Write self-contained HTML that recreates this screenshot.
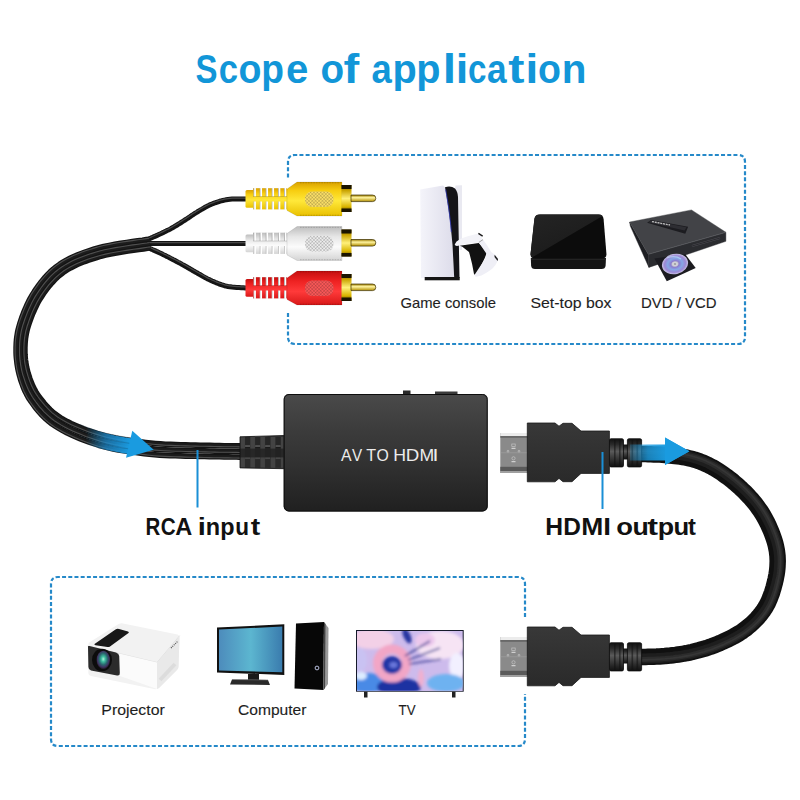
<!DOCTYPE html>
<html><head><meta charset="utf-8"><title>Scope of application</title>
<style>
html,body{margin:0;padding:0;background:#fff;width:800px;height:800px;overflow:hidden}
svg{display:block}
text{font-family:"Liberation Sans",sans-serif}
</style></head><body>
<svg width="800" height="800" viewBox="0 0 800 800">
<defs><clipPath id="tvclip"><rect x="357" y="631" width="105.7" height="59.8"/></clipPath>
<linearGradient id="yel" x1="0" y1="0" x2="0" y2="1"><stop offset="0" stop-color="#d9a100"/><stop offset="0.25" stop-color="#f7cd10"/><stop offset="0.55" stop-color="#ffe83a"/><stop offset="1" stop-color="#e9c000"/></linearGradient>
<linearGradient id="wht" x1="0" y1="0" x2="0" y2="1"><stop offset="0" stop-color="#bdbdbd"/><stop offset="0.3" stop-color="#e6e6e6"/><stop offset="0.6" stop-color="#fbfbfb"/><stop offset="1" stop-color="#d4d4d4"/></linearGradient>
<linearGradient id="red" x1="0" y1="0" x2="0" y2="1"><stop offset="0" stop-color="#c40f0f"/><stop offset="0.3" stop-color="#ee2222"/><stop offset="0.6" stop-color="#ff3a3a"/><stop offset="1" stop-color="#d81818"/></linearGradient>
<linearGradient id="gold" x1="0" y1="0" x2="0" y2="1"><stop offset="0" stop-color="#6b5200"/><stop offset="0.2" stop-color="#c9a300"/><stop offset="0.5" stop-color="#fff07a"/><stop offset="0.8" stop-color="#d8b400"/><stop offset="1" stop-color="#5a4400"/></linearGradient>
<linearGradient id="pin" x1="0" y1="0" x2="0" y2="1"><stop offset="0" stop-color="#9a7a00"/><stop offset="0.4" stop-color="#fff4a0"/><stop offset="1" stop-color="#b08c00"/></linearGradient>
<linearGradient id="boxg" x1="0" y1="0" x2="0" y2="1"><stop offset="0" stop-color="#4a4a4a"/><stop offset="0.3" stop-color="#3c3c3c"/><stop offset="0.6" stop-color="#313131"/><stop offset="1" stop-color="#202020"/></linearGradient>
<linearGradient id="metal" x1="0" y1="0" x2="0" y2="1"><stop offset="0" stop-color="#e8e8e8"/><stop offset="0.15" stop-color="#bdbdbd"/><stop offset="0.2" stop-color="#8a8a8a"/><stop offset="0.55" stop-color="#777"/><stop offset="1" stop-color="#6a6a6a"/></linearGradient>
<linearGradient id="hbody" x1="0" y1="0" x2="0" y2="1"><stop offset="0" stop-color="#383838"/><stop offset="0.5" stop-color="#313131"/><stop offset="1" stop-color="#2a2a2a"/></linearGradient>
<linearGradient id="srg" x1="0" y1="0" x2="0" y2="1"><stop offset="0" stop-color="#111"/><stop offset="0.2" stop-color="#2a2a2a"/><stop offset="0.45" stop-color="#5a5a5a"/><stop offset="0.6" stop-color="#444"/><stop offset="0.85" stop-color="#222"/><stop offset="1" stop-color="#111"/></linearGradient><linearGradient id="ps5g" x1="0" y1="0" x2="1" y2="0"><stop offset="0" stop-color="#f4f4fa"/><stop offset="1" stop-color="#dddcea"/></linearGradient><linearGradient id="stbg" x1="0" y1="0" x2="0.6" y2="1"><stop offset="0" stop-color="#242424"/><stop offset="1" stop-color="#1a1a1a"/></linearGradient><linearGradient id="cab" x1="0" y1="0" x2="1" y2="0"><stop offset="0" stop-color="#111"/><stop offset="1" stop-color="#222"/></linearGradient>
<linearGradient id="arrL" x1="86" y1="0" x2="130" y2="0" gradientUnits="userSpaceOnUse"><stop offset="0" stop-color="#1a9be0" stop-opacity="0"/><stop offset="0.45" stop-color="#1a8fd6" stop-opacity="0.7"/><stop offset="1" stop-color="#1a9be0" stop-opacity="1"/></linearGradient>
<linearGradient id="arrR" x1="628" y1="0" x2="668" y2="0" gradientUnits="userSpaceOnUse"><stop offset="0" stop-color="#1a9be0" stop-opacity="0.15"/><stop offset="0.5" stop-color="#1a9be0" stop-opacity="0.8"/><stop offset="1" stop-color="#1a9be0"/></linearGradient>
<linearGradient id="mon" x1="0" y1="0" x2="1" y2="0"><stop offset="0" stop-color="#4d8cbc"/><stop offset="0.5" stop-color="#5cb6d0"/><stop offset="1" stop-color="#3a7cae"/></linearGradient>
<linearGradient id="stb" x1="0" y1="0" x2="1" y2="1"><stop offset="0" stop-color="#1c1c1c"/><stop offset="0.5" stop-color="#151515"/><stop offset="0.51" stop-color="#262626"/><stop offset="1" stop-color="#0d0d0d"/></linearGradient>
<radialGradient id="lens" cx="0.5" cy="0.45" r="0.55"><stop offset="0" stop-color="#b0f0e0"/><stop offset="0.25" stop-color="#40c0a0"/><stop offset="0.55" stop-color="#2a6a70"/><stop offset="0.8" stop-color="#403060"/><stop offset="1" stop-color="#151515"/></radialGradient>
<radialGradient id="disc" cx="0.5" cy="0.5" r="0.5"><stop offset="0" stop-color="#e0e0e8"/><stop offset="0.22" stop-color="#b8b8c8"/><stop offset="0.32" stop-color="#8c7cd0"/><stop offset="0.55" stop-color="#86a8e6"/><stop offset="0.8" stop-color="#9c88d6"/><stop offset="1" stop-color="#c8c4e4"/></radialGradient>
<filter id="blur2" x="-20%" y="-20%" width="140%" height="140%"><feGaussianBlur stdDeviation="1.4"/></filter><pattern id="hatch" width="2.4" height="2.4" patternUnits="userSpaceOnUse" patternTransform="rotate(45)"><rect width="2.4" height="2.4" fill="none"/><rect width="0.9" height="2.4" fill="#000" opacity="0.16"/><rect width="2.4" height="0.9" fill="#000" opacity="0.16"/></pattern>
</defs>
<rect width="800" height="800" fill="#fff"/>

<text transform="translate(195.55 82.8) scale(0.824 1)" font-size="40" font-weight="bold" fill="#1296d8">S</text><text transform="translate(218.65 82.8) scale(0.866 1)" font-size="40" font-weight="bold" fill="#1296d8">c</text><text transform="translate(238.53 82.8) scale(0.939 1)" font-size="40" font-weight="bold" fill="#1296d8">o</text><text transform="translate(261.30 82.8) scale(0.930 1)" font-size="40" font-weight="bold" fill="#1296d8">p</text><text transform="translate(285.93 82.8) scale(1.004 1)" font-size="40" font-weight="bold" fill="#1296d8">e</text><text transform="translate(320.39 82.8) scale(0.967 1)" font-size="40" font-weight="bold" fill="#1296d8">o</text><text transform="translate(343.59 82.8) scale(1.180 1)" font-size="40" font-weight="bold" fill="#1296d8">f</text><text transform="translate(371.43 82.8) scale(0.910 1)" font-size="40" font-weight="bold" fill="#1296d8">a</text><text transform="translate(392.38 82.8) scale(0.992 1)" font-size="40" font-weight="bold" fill="#1296d8">p</text><text transform="translate(416.13 82.8) scale(0.992 1)" font-size="40" font-weight="bold" fill="#1296d8">p</text><text transform="translate(442.84 82.8) scale(1.203 1)" font-size="40" font-weight="bold" fill="#1296d8">l</text><text transform="translate(455.74 82.8) scale(1.130 1)" font-size="40" font-weight="bold" fill="#1296d8">i</text><text transform="translate(468.10 82.8) scale(0.830 1)" font-size="40" font-weight="bold" fill="#1296d8">c</text><text transform="translate(487.07 82.8) scale(0.881 1)" font-size="40" font-weight="bold" fill="#1296d8">a</text><text transform="translate(508.16 82.8) scale(1.215 1)" font-size="40" font-weight="bold" fill="#1296d8">t</text><text transform="translate(525.49 82.8) scale(1.148 1)" font-size="40" font-weight="bold" fill="#1296d8">i</text><text transform="translate(538.03 82.8) scale(0.939 1)" font-size="40" font-weight="bold" fill="#1296d8">o</text><text transform="translate(561.84 82.8) scale(1.010 1)" font-size="40" font-weight="bold" fill="#1296d8">n</text>
<path d="M288 177.5 L288 162 Q288 155 295 155 L738 155 Q745 155 745 162 L745 337 Q745 344 738 344 L295 344 Q288 344 288 337 L288 312" fill="none" stroke="#2589c9" stroke-width="2.2" stroke-dasharray="4 2.2"/>
<path d="M525 617 L525 584 Q525 577 518 577 L58 577 Q51 577 51 584 L51 739 Q51 746 58 746 L518 746 Q525 746 525 739 L525 694" fill="none" stroke="#2589c9" stroke-width="2.2" stroke-dasharray="4 2.2"/>
<path d="M150.0 238.5 L150.6 238.2 L151.3 237.9 L152.2 237.5 L153.2 237.1 L154.2 236.6 L155.4 236.1 L156.5 235.6 L157.7 235.1 L158.9 234.5 L160.0 234.0 L161.1 233.5 L162.3 232.9 L163.4 232.4 L164.6 231.8 L165.8 231.2 L167.0 230.6 L168.3 230.0 L169.5 229.4 L170.8 228.7 L172.0 228.0 L173.3 227.3 L174.5 226.5 L175.8 225.8 L177.1 225.0 L178.4 224.2 L179.8 223.3 L181.1 222.5 L182.4 221.7 L183.7 220.8 L185.0 220.0 L186.3 219.2 L187.6 218.3 L188.9 217.5 L190.2 216.6 L191.4 215.7 L192.7 214.9 L194.0 214.0 L195.3 213.1 L196.7 212.3 L198.0 211.5 L199.4 210.7 L200.7 209.9 L202.1 209.1 L203.4 208.3 L204.8 207.5 L206.2 206.7 L207.6 206.0 L209.1 205.3 L210.5 204.6 L212.0 204.0 L213.5 203.4 L215.0 202.8 L216.5 202.3 L218.1 201.8 L219.6 201.3 L221.2 200.9 L222.8 200.5 L224.5 200.1 L226.2 199.8 L228.0 199.5 L229.9 199.3 L232.1 199.1 L234.3 199.0 L236.7 199.0 L239.0 199.0 L241.2 199.0 L243.3 199.0 L245.2 199.0 L246.8 199.0 L248.0 199.0" fill="none" stroke="#141414" stroke-width="5.0" stroke-linecap="round" stroke-linejoin="round"/><path d="M149.6 237.7 L150.2 237.4 L151.0 237.1 L151.8 236.7 L152.8 236.3 L153.9 235.8 L155.0 235.3 L156.2 234.8 L157.3 234.2 L158.5 233.7 L159.6 233.2 L160.7 232.7 L161.9 232.1 L163.0 231.6 L164.2 231.0 L165.4 230.4 L166.6 229.8 L167.9 229.2 L169.1 228.6 L170.3 227.9 L171.6 227.2 L172.8 226.5 L174.1 225.8 L175.4 225.0 L176.7 224.2 L178.0 223.4 L179.3 222.6 L180.6 221.7 L181.9 220.9 L183.2 220.1 L184.5 219.2 L185.8 218.4 L187.1 217.6 L188.4 216.7 L189.6 215.8 L190.9 215.0 L192.2 214.1 L193.5 213.2 L194.9 212.4 L196.2 211.5 L197.5 210.7 L198.9 209.9 L200.2 209.1 L201.6 208.3 L203.0 207.5 L204.4 206.7 L205.8 205.9 L207.2 205.2 L208.7 204.5 L210.2 203.8 L211.7 203.2 L213.2 202.6 L214.7 202.0 L216.2 201.5 L217.8 200.9 L219.4 200.4 L221.0 200.0 L222.6 199.6 L224.3 199.2 L226.1 198.9 L227.9 198.6 L229.8 198.4 L232.0 198.2 L234.3 198.1 L236.7 198.1 L239.0 198.1 L241.3 198.1 L243.4 198.1 L245.2 198.1 L246.8 198.1 L248.0 198.1" fill="none" stroke="#505050" stroke-width="1.2" stroke-linecap="round" opacity="0.9"/>
<path d="M150.0 243.5 L153.0 243.5 L156.8 243.5 L161.4 243.5 L166.5 243.5 L172.0 243.5 L177.7 243.5 L183.6 243.5 L189.3 243.5 L194.9 243.5 L200.0 243.5 L205.1 243.5 L210.5 243.5 L216.1 243.5 L221.6 243.5 L227.1 243.5 L232.4 243.5 L237.2 243.5 L241.5 243.5 L245.2 243.5 L248.0 243.5" fill="none" stroke="#141414" stroke-width="5.0" stroke-linecap="round" stroke-linejoin="round"/><path d="M150.0 242.6 L153.0 242.6 L156.8 242.6 L161.4 242.6 L166.5 242.6 L172.0 242.6 L177.7 242.6 L183.6 242.6 L189.3 242.6 L194.9 242.6 L200.0 242.6 L205.1 242.6 L210.5 242.6 L216.1 242.6 L221.6 242.6 L227.1 242.6 L232.4 242.6 L237.2 242.6 L241.5 242.6 L245.2 242.6 L248.0 242.6" fill="none" stroke="#505050" stroke-width="1.2" stroke-linecap="round" opacity="0.9"/>
<path d="M150.0 248.5 L150.6 248.8 L151.3 249.1 L152.2 249.5 L153.2 249.9 L154.2 250.4 L155.4 250.9 L156.5 251.4 L157.7 251.9 L158.9 252.5 L160.0 253.0 L161.1 253.5 L162.3 254.1 L163.4 254.7 L164.6 255.2 L165.8 255.8 L167.0 256.5 L168.3 257.1 L169.5 257.7 L170.8 258.4 L172.0 259.0 L173.3 259.7 L174.5 260.3 L175.8 261.0 L177.1 261.7 L178.4 262.4 L179.8 263.1 L181.1 263.8 L182.4 264.6 L183.7 265.3 L185.0 266.0 L186.3 266.7 L187.6 267.5 L188.9 268.2 L190.2 269.0 L191.4 269.7 L192.7 270.5 L194.0 271.2 L195.3 272.0 L196.7 272.7 L198.0 273.5 L199.4 274.3 L200.7 275.0 L202.1 275.8 L203.4 276.6 L204.8 277.4 L206.2 278.1 L207.6 278.9 L209.1 279.6 L210.5 280.3 L212.0 281.0 L213.5 281.6 L215.0 282.3 L216.5 282.9 L218.1 283.5 L219.6 284.1 L221.2 284.7 L222.8 285.2 L224.5 285.7 L226.2 286.1 L228.0 286.5 L229.9 286.8 L232.1 287.1 L234.3 287.3 L236.7 287.5 L239.0 287.6 L241.2 287.7 L243.3 287.8 L245.2 287.9 L246.8 287.9 L248.0 288.0" fill="none" stroke="#141414" stroke-width="5.0" stroke-linecap="round" stroke-linejoin="round"/><path d="M150.4 247.7 L151.0 247.9 L151.7 248.3 L152.6 248.6 L153.5 249.1 L154.6 249.6 L155.7 250.1 L156.9 250.6 L158.1 251.1 L159.3 251.7 L160.4 252.2 L161.5 252.7 L162.7 253.3 L163.8 253.9 L165.0 254.4 L166.2 255.0 L167.4 255.7 L168.7 256.3 L169.9 256.9 L171.2 257.6 L172.4 258.2 L173.7 258.9 L175.0 259.5 L176.2 260.2 L177.6 260.9 L178.9 261.6 L180.2 262.3 L181.5 263.0 L182.8 263.8 L184.1 264.5 L185.4 265.2 L186.7 265.9 L188.0 266.7 L189.3 267.4 L190.6 268.2 L191.9 268.9 L193.2 269.7 L194.5 270.5 L195.8 271.2 L197.1 272.0 L198.4 272.7 L199.8 273.5 L201.2 274.3 L202.5 275.0 L203.9 275.8 L205.3 276.6 L206.6 277.4 L208.0 278.1 L209.5 278.8 L210.9 279.5 L212.4 280.2 L213.9 280.8 L215.4 281.5 L216.9 282.1 L218.4 282.7 L219.9 283.3 L221.5 283.8 L223.1 284.3 L224.7 284.8 L226.4 285.2 L228.2 285.6 L230.1 285.9 L232.2 286.2 L234.4 286.4 L236.7 286.6 L239.0 286.7 L241.3 286.8 L243.4 286.9 L245.3 287.0 L246.8 287.0 L248.1 287.1" fill="none" stroke="#505050" stroke-width="1.2" stroke-linecap="round" opacity="0.9"/>
<path d="M241.9 457.1 L239.5 457.1 L236.4 457.0 L232.7 457.0 L228.5 456.9 L224.1 456.9 L219.3 456.8 L214.4 456.7 L209.5 456.6 L204.6 456.5 L199.8 456.4 L195.2 456.3 L190.4 456.2 L185.5 456.1 L180.4 455.9 L175.3 455.8 L170.2 455.6 L165.0 455.4 L159.7 455.1 L154.6 454.7 L149.4 454.2 L144.3 453.6 L139.2 453.0 L134.0 452.3 L128.8 451.6 L123.6 450.8 L118.4 449.9 L113.3 448.9 L108.3 447.8 L103.3 446.5 L98.5 445.2 L93.8 443.7 L89.1 442.1 L84.4 440.4 L79.8 438.6 L75.3 436.7 L70.9 434.7 L66.7 432.7 L62.7 430.6 L58.9 428.4 L55.3 426.2 L52.0 424.0 L48.9 421.6 L46.1 419.2 L43.5 416.7 L41.0 414.2 L38.8 411.7 L36.7 409.2 L34.7 406.7 L32.9 404.2 L31.1 401.7 L29.4 399.2 L27.9 396.7 L26.5 394.1 L25.2 391.5 L24.1 389.0 L23.0 386.4 L22.1 383.9 L21.2 381.3 L20.4 378.8 L19.7 376.3 L19.0 373.7 L18.4 371.1 L17.8 368.4 L17.4 365.8 L17.0 363.2 L16.7 360.5 L16.4 357.9 L16.2 355.2 L16.1 352.6 L16.1 350.0 L16.1 347.5 L16.2 344.9 L16.3 342.4 L16.5 339.9 L16.8 337.3 L17.2 334.7 L17.6 332.1 L18.2 329.4 L19.0 326.6 L19.8 323.7 L20.8 320.7 L21.8 317.6 L23.0 314.4 L24.3 311.1 L25.7 307.8 L27.2 304.5 L28.8 301.1 L30.5 297.9 L32.4 294.7 L34.3 291.6 L36.3 288.6 L38.4 285.7 L40.5 282.8 L42.8 280.0 L45.2 277.1 L47.7 274.4 L50.4 271.7 L53.3 269.1 L56.3 266.7 L59.5 264.4 L62.9 262.2 L66.4 260.2 L70.0 258.3 L73.8 256.5 L77.7 254.8 L81.7 253.3 L85.8 251.8 L90.1 250.4 L94.4 249.0 L98.9 247.8 L103.7 246.5 L109.2 245.4 L114.9 244.3 L120.8 243.3 L126.7 242.4 L132.4 241.6 L137.7 240.8 L142.4 240.2 L146.3 239.6 L149.3 239.2" fill="none" stroke="#141414" stroke-width="5.6" stroke-linecap="butt" stroke-linejoin="round"/>
<path d="M242.0 451.5 L239.5 451.5 L236.4 451.4 L232.7 451.4 L228.6 451.3 L224.1 451.3 L219.4 451.2 L214.5 451.1 L209.6 451.0 L204.7 450.9 L200.0 450.8 L195.3 450.7 L190.5 450.6 L185.6 450.5 L180.6 450.3 L175.5 450.2 L170.4 450.0 L165.3 449.8 L160.1 449.5 L155.0 449.1 L150.0 448.6 L145.0 448.0 L139.9 447.4 L134.7 446.8 L129.6 446.1 L124.5 445.3 L119.4 444.4 L114.4 443.5 L109.5 442.4 L104.7 441.3 L100.0 440.0 L95.4 438.6 L90.8 437.1 L86.2 435.4 L81.7 433.7 L77.3 431.9 L73.0 430.0 L69.0 428.1 L65.1 426.1 L61.4 424.0 L58.0 422.0 L54.9 419.9 L52.0 417.7 L49.3 415.5 L46.9 413.2 L44.6 410.9 L42.4 408.5 L40.4 406.1 L38.5 403.7 L36.7 401.4 L35.0 399.0 L33.4 396.6 L31.9 394.3 L30.6 391.9 L29.4 389.5 L28.3 387.1 L27.3 384.7 L26.4 382.3 L25.5 379.9 L24.7 377.4 L24.0 375.0 L23.3 372.5 L22.7 370.1 L22.2 367.6 L21.7 365.1 L21.3 362.6 L21.0 360.0 L20.8 357.5 L20.6 355.0 L20.5 352.5 L20.5 350.0 L20.5 347.5 L20.6 345.1 L20.7 342.7 L20.9 340.3 L21.2 337.9 L21.5 335.4 L22.0 332.9 L22.5 330.4 L23.2 327.7 L24.0 325.0 L24.9 322.1 L26.0 319.1 L27.1 316.0 L28.4 312.8 L29.7 309.6 L31.2 306.3 L32.7 303.1 L34.4 300.0 L36.1 296.9 L38.0 294.0 L39.9 291.2 L41.9 288.3 L44.0 285.5 L46.2 282.8 L48.5 280.1 L50.9 277.4 L53.5 274.9 L56.1 272.5 L59.0 270.2 L62.0 268.0 L65.2 266.0 L68.5 264.0 L72.0 262.2 L75.6 260.5 L79.4 258.9 L83.3 257.4 L87.3 255.9 L91.4 254.6 L95.7 253.3 L100.0 252.0 L104.7 250.8 L110.0 249.7 L115.7 248.6 L121.5 247.7 L127.4 246.8 L133.0 245.9 L138.3 245.2 L143.0 244.5 L147.0 244.0 L150.0 243.5" fill="none" stroke="#141414" stroke-width="5.6" stroke-linecap="butt" stroke-linejoin="round"/>
<path d="M242.1 445.9 L239.6 445.9 L236.5 445.8 L232.8 445.8 L228.7 445.7 L224.2 445.7 L219.5 445.6 L214.6 445.5 L209.7 445.4 L204.9 445.3 L200.2 445.2 L195.5 445.1 L190.6 445.0 L185.7 444.9 L180.7 444.7 L175.7 444.6 L170.6 444.4 L165.5 444.2 L160.5 443.9 L155.5 443.5 L150.6 443.0 L145.6 442.5 L140.6 441.9 L135.5 441.2 L130.4 440.5 L125.4 439.8 L120.4 438.9 L115.5 438.1 L110.7 437.1 L106.0 436.0 L101.5 434.8 L97.0 433.5 L92.5 432.0 L88.0 430.5 L83.7 428.9 L79.4 427.1 L75.2 425.3 L71.2 423.5 L67.4 421.6 L63.9 419.7 L60.7 417.8 L57.8 415.8 L55.1 413.9 L52.6 411.8 L50.3 409.7 L48.1 407.5 L46.1 405.3 L44.1 403.1 L42.3 400.8 L40.5 398.5 L38.9 396.3 L37.3 394.1 L35.9 391.9 L34.7 389.7 L33.6 387.5 L32.5 385.3 L31.6 383.0 L30.7 380.7 L29.8 378.4 L29.1 376.1 L28.3 373.7 L27.6 371.4 L27.1 369.1 L26.5 366.7 L26.1 364.3 L25.7 362.0 L25.4 359.6 L25.2 357.2 L25.0 354.8 L24.9 352.4 L24.9 350.0 L24.9 347.6 L25.0 345.3 L25.1 343.0 L25.3 340.7 L25.5 338.4 L25.9 336.1 L26.3 333.8 L26.8 331.4 L27.4 328.9 L28.2 326.3 L29.1 323.5 L30.1 320.6 L31.2 317.5 L32.4 314.4 L33.8 311.3 L35.2 308.2 L36.7 305.1 L38.2 302.1 L39.9 299.2 L41.7 296.4 L43.5 293.7 L45.5 290.9 L47.5 288.2 L49.6 285.6 L51.8 283.0 L54.1 280.5 L56.5 278.1 L59.0 275.8 L61.7 273.7 L64.5 271.6 L67.5 269.7 L70.6 267.9 L73.9 266.2 L77.4 264.5 L81.0 263.0 L84.8 261.5 L88.7 260.1 L92.8 258.8 L96.9 257.5 L101.1 256.2 L105.7 255.1 L110.9 254.0 L116.5 253.0 L122.2 252.0 L128.0 251.1 L133.6 250.3 L138.9 249.5 L143.6 248.9 L147.6 248.3 L150.7 247.8" fill="none" stroke="#141414" stroke-width="5.6" stroke-linecap="butt" stroke-linejoin="round"/>
<path d="M241.9 457.1 L239.5 457.1 L236.4 457.0 L232.7 457.0 L228.5 456.9 L224.1 456.9 L219.3 456.8 L214.4 456.7 L209.5 456.6 L204.6 456.5 L199.8 456.4 L195.2 456.3 L190.4 456.2 L185.5 456.1 L180.4 455.9 L175.3 455.8 L170.2 455.6 L165.0 455.4 L159.7 455.1 L154.6 454.7 L149.4 454.2 L144.3 453.6 L139.2 453.0 L134.0 452.3 L128.8 451.6 L123.6 450.8 L118.4 449.9 L113.3 448.9 L108.3 447.8 L103.3 446.5 L98.5 445.2 L93.8 443.7 L89.1 442.1 L84.4 440.4 L79.8 438.6 L75.3 436.7 L70.9 434.7 L66.7 432.7 L62.7 430.6 L58.9 428.4 L55.3 426.2 L52.0 424.0 L48.9 421.6 L46.1 419.2 L43.5 416.7 L41.0 414.2 L38.8 411.7 L36.7 409.2 L34.7 406.7 L32.9 404.2 L31.1 401.7 L29.4 399.2 L27.9 396.7 L26.5 394.1 L25.2 391.5 L24.1 389.0 L23.0 386.4 L22.1 383.9 L21.2 381.3 L20.4 378.8 L19.7 376.3 L19.0 373.7 L18.4 371.1 L17.8 368.4 L17.4 365.8 L17.0 363.2 L16.7 360.5 L16.4 357.9 L16.2 355.2 L16.1 352.6 L16.1 350.0 L16.1 347.5 L16.2 344.9 L16.3 342.4 L16.5 339.9 L16.8 337.3 L17.2 334.7 L17.6 332.1 L18.2 329.4 L19.0 326.6 L19.8 323.7 L20.8 320.7 L21.8 317.6 L23.0 314.4 L24.3 311.1 L25.7 307.8 L27.2 304.5 L28.8 301.1 L30.5 297.9 L32.4 294.7 L34.3 291.6 L36.3 288.6 L38.4 285.7 L40.5 282.8 L42.8 280.0 L45.2 277.1 L47.7 274.4 L50.4 271.7 L53.3 269.1 L56.3 266.7 L59.5 264.4 L62.9 262.2 L66.4 260.2 L70.0 258.3 L73.8 256.5 L77.7 254.8 L81.7 253.3 L85.8 251.8 L90.1 250.4 L94.4 249.0 L98.9 247.8 L103.7 246.5 L109.2 245.4 L114.9 244.3 L120.8 243.3 L126.7 242.4 L132.4 241.6 L137.7 240.8 L142.4 240.2 L146.3 239.6 L149.3 239.2" fill="none" stroke="#1c1c1c" stroke-width="3.2" stroke-linecap="butt" stroke-linejoin="round"/>
<path d="M241.9 458.1 L239.5 458.1 L236.3 458.0 L232.7 458.0 L228.5 457.9 L224.0 457.9 L219.3 457.8 L214.4 457.7 L209.4 457.6 L204.5 457.5 L199.8 457.4 L195.2 457.3 L190.4 457.2 L185.4 457.1 L180.4 456.9 L175.3 456.8 L170.1 456.6 L164.9 456.4 L159.7 456.1 L154.5 455.7 L149.3 455.2 L144.2 454.6 L139.1 454.0 L133.9 453.3 L128.7 452.6 L123.4 451.8 L118.3 450.9 L113.1 449.9 L108.0 448.8 L103.1 447.5 L98.2 446.2 L93.5 444.7 L88.7 443.1 L84.0 441.3 L79.4 439.5 L74.9 437.6 L70.5 435.6 L66.2 433.5 L62.2 431.4 L58.4 429.3 L54.8 427.1 L51.4 424.8 L48.3 422.4 L45.4 419.9 L42.7 417.4 L40.3 414.9 L38.0 412.3 L35.9 409.8 L34.0 407.3 L32.1 404.8 L30.3 402.3 L28.6 399.8 L27.0 397.2 L25.6 394.6 L24.3 392.0 L23.1 389.4 L22.1 386.8 L21.1 384.2 L20.3 381.6 L19.5 379.1 L18.7 376.5 L18.0 373.9 L17.4 371.3 L16.8 368.6 L16.4 366.0 L16.0 363.3 L15.7 360.6 L15.4 358.0 L15.2 355.3 L15.1 352.6 L15.1 350.0 L15.1 347.4 L15.2 344.9 L15.3 342.3 L15.5 339.8 L15.8 337.2 L16.2 334.6 L16.7 331.9 L17.3 329.1 L18.0 326.3 L18.8 323.4 L19.8 320.4 L20.9 317.3 L22.1 314.1 L23.4 310.8 L24.8 307.4 L26.3 304.0 L27.9 300.7 L29.7 297.4 L31.5 294.1 L33.5 291.0 L35.5 288.1 L37.6 285.1 L39.7 282.2 L42.0 279.3 L44.5 276.5 L47.0 273.7 L49.7 271.0 L52.6 268.4 L55.7 265.9 L59.0 263.5 L62.4 261.3 L65.9 259.3 L69.6 257.4 L73.4 255.6 L77.3 253.9 L81.4 252.3 L85.5 250.8 L89.8 249.4 L94.1 248.1 L98.6 246.8 L103.5 245.5 L109.0 244.4 L114.8 243.3 L120.7 242.3 L126.6 241.4 L132.3 240.6 L137.6 239.8 L142.3 239.2 L146.2 238.6 L149.2 238.2" fill="none" stroke="#555" stroke-width="1.1" stroke-linecap="butt" opacity="0.9"/>
<path d="M242.0 451.5 L239.5 451.5 L236.4 451.4 L232.7 451.4 L228.6 451.3 L224.1 451.3 L219.4 451.2 L214.5 451.1 L209.6 451.0 L204.7 450.9 L200.0 450.8 L195.3 450.7 L190.5 450.6 L185.6 450.5 L180.6 450.3 L175.5 450.2 L170.4 450.0 L165.3 449.8 L160.1 449.5 L155.0 449.1 L150.0 448.6 L145.0 448.0 L139.9 447.4 L134.7 446.8 L129.6 446.1 L124.5 445.3 L119.4 444.4 L114.4 443.5 L109.5 442.4 L104.7 441.3 L100.0 440.0 L95.4 438.6 L90.8 437.1 L86.2 435.4 L81.7 433.7 L77.3 431.9 L73.0 430.0 L69.0 428.1 L65.1 426.1 L61.4 424.0 L58.0 422.0 L54.9 419.9 L52.0 417.7 L49.3 415.5 L46.9 413.2 L44.6 410.9 L42.4 408.5 L40.4 406.1 L38.5 403.7 L36.7 401.4 L35.0 399.0 L33.4 396.6 L31.9 394.3 L30.6 391.9 L29.4 389.5 L28.3 387.1 L27.3 384.7 L26.4 382.3 L25.5 379.9 L24.7 377.4 L24.0 375.0 L23.3 372.5 L22.7 370.1 L22.2 367.6 L21.7 365.1 L21.3 362.6 L21.0 360.0 L20.8 357.5 L20.6 355.0 L20.5 352.5 L20.5 350.0 L20.5 347.5 L20.6 345.1 L20.7 342.7 L20.9 340.3 L21.2 337.9 L21.5 335.4 L22.0 332.9 L22.5 330.4 L23.2 327.7 L24.0 325.0 L24.9 322.1 L26.0 319.1 L27.1 316.0 L28.4 312.8 L29.7 309.6 L31.2 306.3 L32.7 303.1 L34.4 300.0 L36.1 296.9 L38.0 294.0 L39.9 291.2 L41.9 288.3 L44.0 285.5 L46.2 282.8 L48.5 280.1 L50.9 277.4 L53.5 274.9 L56.1 272.5 L59.0 270.2 L62.0 268.0 L65.2 266.0 L68.5 264.0 L72.0 262.2 L75.6 260.5 L79.4 258.9 L83.3 257.4 L87.3 255.9 L91.4 254.6 L95.7 253.3 L100.0 252.0 L104.7 250.8 L110.0 249.7 L115.7 248.6 L121.5 247.7 L127.4 246.8 L133.0 245.9 L138.3 245.2 L143.0 244.5 L147.0 244.0 L150.0 243.5" fill="none" stroke="#1c1c1c" stroke-width="3.2" stroke-linecap="butt" stroke-linejoin="round"/>
<path d="M242.0 452.5 L239.5 452.5 L236.4 452.4 L232.7 452.4 L228.6 452.3 L224.1 452.3 L219.4 452.2 L214.5 452.1 L209.6 452.0 L204.7 451.9 L200.0 451.8 L195.3 451.7 L190.5 451.6 L185.6 451.5 L180.6 451.3 L175.5 451.2 L170.3 451.0 L165.2 450.8 L160.1 450.5 L155.0 450.1 L149.9 449.6 L144.9 449.0 L139.8 448.4 L134.6 447.8 L129.5 447.1 L124.3 446.3 L119.2 445.4 L114.2 444.5 L109.3 443.4 L104.4 442.2 L99.7 441.0 L95.1 439.6 L90.5 438.0 L85.9 436.4 L81.3 434.6 L76.9 432.8 L72.6 430.9 L68.5 429.0 L64.6 427.0 L60.9 424.9 L57.5 422.8 L54.3 420.7 L51.4 418.5 L48.7 416.2 L46.2 413.9 L43.8 411.6 L41.7 409.2 L39.6 406.8 L37.7 404.4 L35.9 402.0 L34.2 399.6 L32.5 397.2 L31.1 394.8 L29.7 392.4 L28.5 390.0 L27.4 387.5 L26.4 385.1 L25.4 382.6 L24.6 380.2 L23.8 377.7 L23.0 375.3 L22.3 372.8 L21.7 370.3 L21.2 367.8 L20.7 365.2 L20.4 362.7 L20.0 360.2 L19.8 357.6 L19.6 355.1 L19.5 352.5 L19.5 350.0 L19.5 347.5 L19.6 345.1 L19.7 342.6 L19.9 340.2 L20.2 337.7 L20.5 335.3 L21.0 332.7 L21.5 330.2 L22.2 327.5 L23.0 324.7 L24.0 321.8 L25.0 318.8 L26.2 315.6 L27.4 312.4 L28.8 309.2 L30.3 305.9 L31.8 302.7 L33.5 299.5 L35.3 296.4 L37.2 293.5 L39.1 290.6 L41.1 287.7 L43.2 284.9 L45.4 282.1 L47.8 279.4 L50.2 276.7 L52.8 274.2 L55.5 271.7 L58.4 269.4 L61.4 267.2 L64.7 265.1 L68.0 263.2 L71.5 261.3 L75.2 259.6 L79.0 258.0 L82.9 256.4 L86.9 255.0 L91.1 253.6 L95.4 252.3 L99.7 251.0 L104.5 249.8 L109.8 248.7 L115.5 247.6 L121.4 246.7 L127.2 245.8 L132.9 244.9 L138.2 244.2 L142.9 243.5 L146.8 243.0 L149.8 242.5" fill="none" stroke="#555" stroke-width="1.1" stroke-linecap="butt" opacity="0.9"/>
<path d="M242.1 445.9 L239.6 445.9 L236.5 445.8 L232.8 445.8 L228.7 445.7 L224.2 445.7 L219.5 445.6 L214.6 445.5 L209.7 445.4 L204.9 445.3 L200.2 445.2 L195.5 445.1 L190.6 445.0 L185.7 444.9 L180.7 444.7 L175.7 444.6 L170.6 444.4 L165.5 444.2 L160.5 443.9 L155.5 443.5 L150.6 443.0 L145.6 442.5 L140.6 441.9 L135.5 441.2 L130.4 440.5 L125.4 439.8 L120.4 438.9 L115.5 438.1 L110.7 437.1 L106.0 436.0 L101.5 434.8 L97.0 433.5 L92.5 432.0 L88.0 430.5 L83.7 428.9 L79.4 427.1 L75.2 425.3 L71.2 423.5 L67.4 421.6 L63.9 419.7 L60.7 417.8 L57.8 415.8 L55.1 413.9 L52.6 411.8 L50.3 409.7 L48.1 407.5 L46.1 405.3 L44.1 403.1 L42.3 400.8 L40.5 398.5 L38.9 396.3 L37.3 394.1 L35.9 391.9 L34.7 389.7 L33.6 387.5 L32.5 385.3 L31.6 383.0 L30.7 380.7 L29.8 378.4 L29.1 376.1 L28.3 373.7 L27.6 371.4 L27.1 369.1 L26.5 366.7 L26.1 364.3 L25.7 362.0 L25.4 359.6 L25.2 357.2 L25.0 354.8 L24.9 352.4 L24.9 350.0 L24.9 347.6 L25.0 345.3 L25.1 343.0 L25.3 340.7 L25.5 338.4 L25.9 336.1 L26.3 333.8 L26.8 331.4 L27.4 328.9 L28.2 326.3 L29.1 323.5 L30.1 320.6 L31.2 317.5 L32.4 314.4 L33.8 311.3 L35.2 308.2 L36.7 305.1 L38.2 302.1 L39.9 299.2 L41.7 296.4 L43.5 293.7 L45.5 290.9 L47.5 288.2 L49.6 285.6 L51.8 283.0 L54.1 280.5 L56.5 278.1 L59.0 275.8 L61.7 273.7 L64.5 271.6 L67.5 269.7 L70.6 267.9 L73.9 266.2 L77.4 264.5 L81.0 263.0 L84.8 261.5 L88.7 260.1 L92.8 258.8 L96.9 257.5 L101.1 256.2 L105.7 255.1 L110.9 254.0 L116.5 253.0 L122.2 252.0 L128.0 251.1 L133.6 250.3 L138.9 249.5 L143.6 248.9 L147.6 248.3 L150.7 247.8" fill="none" stroke="#1c1c1c" stroke-width="3.2" stroke-linecap="butt" stroke-linejoin="round"/>
<path d="M242.1 446.9 L239.6 446.9 L236.5 446.8 L232.8 446.8 L228.7 446.7 L224.2 446.7 L219.5 446.6 L214.6 446.5 L209.7 446.4 L204.8 446.3 L200.1 446.2 L195.4 446.1 L190.6 446.0 L185.7 445.9 L180.7 445.7 L175.6 445.6 L170.6 445.4 L165.5 445.2 L160.4 444.9 L155.4 444.5 L150.5 444.0 L145.5 443.5 L140.4 442.9 L135.4 442.2 L130.3 441.5 L125.2 440.7 L120.2 439.9 L115.3 439.0 L110.5 438.0 L105.8 437.0 L101.2 435.8 L96.7 434.4 L92.2 433.0 L87.7 431.4 L83.3 429.8 L79.0 428.0 L74.8 426.2 L70.8 424.4 L67.0 422.5 L63.4 420.5 L60.2 418.6 L57.2 416.7 L54.5 414.6 L51.9 412.6 L49.6 410.4 L47.4 408.2 L45.3 406.0 L43.4 403.7 L41.5 401.4 L39.7 399.1 L38.0 396.8 L36.5 394.6 L35.1 392.4 L33.8 390.2 L32.7 388.0 L31.6 385.7 L30.6 383.4 L29.7 381.1 L28.9 378.8 L28.1 376.4 L27.4 374.0 L26.7 371.7 L26.1 369.3 L25.6 366.9 L25.1 364.5 L24.7 362.1 L24.4 359.7 L24.2 357.3 L24.0 354.8 L23.9 352.4 L23.9 350.0 L23.9 347.6 L24.0 345.2 L24.1 342.9 L24.3 340.6 L24.5 338.3 L24.9 336.0 L25.3 333.6 L25.8 331.2 L26.5 328.6 L27.2 326.0 L28.2 323.2 L29.2 320.2 L30.3 317.2 L31.5 314.1 L32.8 310.9 L34.3 307.8 L35.8 304.7 L37.4 301.6 L39.1 298.7 L40.8 295.9 L42.7 293.1 L44.7 290.3 L46.7 287.6 L48.8 284.9 L51.0 282.3 L53.4 279.8 L55.8 277.4 L58.4 275.1 L61.1 272.9 L63.9 270.8 L66.9 268.9 L70.1 267.0 L73.5 265.3 L77.0 263.6 L80.7 262.1 L84.5 260.6 L88.4 259.1 L92.4 257.8 L96.6 256.5 L100.9 255.3 L105.5 254.1 L110.7 253.0 L116.3 252.0 L122.1 251.0 L127.9 250.1 L133.5 249.3 L138.8 248.6 L143.5 247.9 L147.5 247.3 L150.5 246.9" fill="none" stroke="#555" stroke-width="1.1" stroke-linecap="butt" opacity="0.9"/>
<rect x="245.5" y="190" width="9" height="17.8" rx="1.5" fill="url(#yel)"/><rect x="253" y="188.2" width="34" height="21.2" fill="url(#yel)"/><rect x="253.6" y="187.8" width="2.3" height="8.7" fill="#fff"/><rect x="253.6" y="201.5" width="2.3" height="8.4" fill="#fff"/><rect x="253.6" y="188.2" width="0.6" height="8.2" fill="#000" opacity="0.45"/><rect x="253.6" y="201.5" width="0.6" height="7.9" fill="#000" opacity="0.35"/><rect x="259.75" y="187.8" width="2.3" height="8.7" fill="#fff"/><rect x="259.75" y="201.5" width="2.3" height="8.4" fill="#fff"/><rect x="259.75" y="188.2" width="0.6" height="8.2" fill="#000" opacity="0.45"/><rect x="259.75" y="201.5" width="0.6" height="7.9" fill="#000" opacity="0.35"/><rect x="265.75" y="187.8" width="2.3" height="8.7" fill="#fff"/><rect x="265.75" y="201.5" width="2.3" height="8.4" fill="#fff"/><rect x="265.75" y="188.2" width="0.6" height="8.2" fill="#000" opacity="0.45"/><rect x="265.75" y="201.5" width="0.6" height="7.9" fill="#000" opacity="0.35"/><rect x="271.75" y="187.8" width="2.3" height="8.7" fill="#fff"/><rect x="271.75" y="201.5" width="2.3" height="8.4" fill="#fff"/><rect x="271.75" y="188.2" width="0.6" height="8.2" fill="#000" opacity="0.45"/><rect x="271.75" y="201.5" width="0.6" height="7.9" fill="#000" opacity="0.35"/><rect x="278" y="187.8" width="2.3" height="8.7" fill="#fff"/><rect x="278" y="201.5" width="2.3" height="8.4" fill="#fff"/><rect x="278" y="188.2" width="0.6" height="8.2" fill="#000" opacity="0.45"/><rect x="278" y="201.5" width="0.6" height="7.9" fill="#000" opacity="0.35"/><rect x="284" y="187.8" width="2.3" height="8.7" fill="#fff"/><rect x="284" y="201.5" width="2.3" height="8.4" fill="#fff"/><rect x="284" y="188.2" width="0.6" height="8.2" fill="#000" opacity="0.45"/><rect x="284" y="201.5" width="0.6" height="7.9" fill="#000" opacity="0.35"/><rect x="253" y="196.2" width="34" height="0.6" fill="#000" opacity="0.25"/><path d="M287 189 L297 182 L342 182 L342 216 L297 216 L287 210.5 Z" fill="url(#yel)"/><path d="M287 189 L297 182 L342 182 L342 216 L297 216 L287 210.5 Z" fill="none" stroke="#000" stroke-opacity="0.12" stroke-width="0.8"/><path d="M300 182.8 L341 182.8 M300 215.2 L341 215.2" stroke="#000" stroke-width="1" stroke-dasharray="0.7 0.9" opacity="0.25"/><rect x="305" y="191.5" width="28.5" height="15.5" rx="7" fill="#ffe36a"/><rect x="305" y="191.5" width="28.5" height="15.5" rx="7" fill="url(#hatch)"/><rect x="341.5" y="185" width="10" height="27" fill="url(#gold)"/><rect x="341.5" y="185" width="10" height="4" fill="#1a1400"/><rect x="341.5" y="208.5" width="10" height="3.5" fill="#1a1400"/><path d="M351 195 L372.5 195 Q375.8 195 375.8 198.3 Q375.8 201.6 372.5 201.6 L351 201.6 Z" fill="url(#pin)" stroke="#3a2e00" stroke-width="0.7"/>
<rect x="245.5" y="234.5" width="9" height="17.8" rx="1.5" fill="url(#wht)"/><rect x="253" y="232.7" width="34" height="21.2" fill="url(#wht)"/><rect x="253.6" y="232.3" width="2.3" height="8.7" fill="#fff"/><rect x="253.6" y="246.0" width="2.3" height="8.4" fill="#fff"/><rect x="253.6" y="232.7" width="0.6" height="8.2" fill="#000" opacity="0.45"/><rect x="253.6" y="246.0" width="0.6" height="7.9" fill="#000" opacity="0.35"/><rect x="259.75" y="232.3" width="2.3" height="8.7" fill="#fff"/><rect x="259.75" y="246.0" width="2.3" height="8.4" fill="#fff"/><rect x="259.75" y="232.7" width="0.6" height="8.2" fill="#000" opacity="0.45"/><rect x="259.75" y="246.0" width="0.6" height="7.9" fill="#000" opacity="0.35"/><rect x="265.75" y="232.3" width="2.3" height="8.7" fill="#fff"/><rect x="265.75" y="246.0" width="2.3" height="8.4" fill="#fff"/><rect x="265.75" y="232.7" width="0.6" height="8.2" fill="#000" opacity="0.45"/><rect x="265.75" y="246.0" width="0.6" height="7.9" fill="#000" opacity="0.35"/><rect x="271.75" y="232.3" width="2.3" height="8.7" fill="#fff"/><rect x="271.75" y="246.0" width="2.3" height="8.4" fill="#fff"/><rect x="271.75" y="232.7" width="0.6" height="8.2" fill="#000" opacity="0.45"/><rect x="271.75" y="246.0" width="0.6" height="7.9" fill="#000" opacity="0.35"/><rect x="278" y="232.3" width="2.3" height="8.7" fill="#fff"/><rect x="278" y="246.0" width="2.3" height="8.4" fill="#fff"/><rect x="278" y="232.7" width="0.6" height="8.2" fill="#000" opacity="0.45"/><rect x="278" y="246.0" width="0.6" height="7.9" fill="#000" opacity="0.35"/><rect x="284" y="232.3" width="2.3" height="8.7" fill="#fff"/><rect x="284" y="246.0" width="2.3" height="8.4" fill="#fff"/><rect x="284" y="232.7" width="0.6" height="8.2" fill="#000" opacity="0.45"/><rect x="284" y="246.0" width="0.6" height="7.9" fill="#000" opacity="0.35"/><rect x="253" y="240.7" width="34" height="0.6" fill="#000" opacity="0.25"/><path d="M287 233.5 L297 226.5 L342 226.5 L342 260.5 L297 260.5 L287 255.0 Z" fill="url(#wht)"/><path d="M287 233.5 L297 226.5 L342 226.5 L342 260.5 L297 260.5 L287 255.0 Z" fill="none" stroke="#000" stroke-opacity="0.12" stroke-width="0.8"/><path d="M300 227.3 L341 227.3 M300 259.7 L341 259.7" stroke="#000" stroke-width="1" stroke-dasharray="0.7 0.9" opacity="0.25"/><rect x="305" y="236.0" width="28.5" height="15.5" rx="7" fill="#f2f2f2"/><rect x="305" y="236.0" width="28.5" height="15.5" rx="7" fill="url(#hatch)"/><rect x="341.5" y="229.5" width="10" height="27" fill="url(#gold)"/><rect x="341.5" y="229.5" width="10" height="4" fill="#1a1400"/><rect x="341.5" y="253.0" width="10" height="3.5" fill="#1a1400"/><path d="M351 239.5 L372.5 239.5 Q375.8 239.5 375.8 242.8 Q375.8 246.1 372.5 246.1 L351 246.1 Z" fill="url(#pin)" stroke="#3a2e00" stroke-width="0.7"/>
<rect x="245.5" y="279" width="9" height="17.8" rx="1.5" fill="url(#red)"/><rect x="253" y="277.2" width="34" height="21.2" fill="url(#red)"/><rect x="253.6" y="276.8" width="2.3" height="8.7" fill="#fff"/><rect x="253.6" y="290.5" width="2.3" height="8.4" fill="#fff"/><rect x="253.6" y="277.2" width="0.6" height="8.2" fill="#000" opacity="0.45"/><rect x="253.6" y="290.5" width="0.6" height="7.9" fill="#000" opacity="0.35"/><rect x="259.75" y="276.8" width="2.3" height="8.7" fill="#fff"/><rect x="259.75" y="290.5" width="2.3" height="8.4" fill="#fff"/><rect x="259.75" y="277.2" width="0.6" height="8.2" fill="#000" opacity="0.45"/><rect x="259.75" y="290.5" width="0.6" height="7.9" fill="#000" opacity="0.35"/><rect x="265.75" y="276.8" width="2.3" height="8.7" fill="#fff"/><rect x="265.75" y="290.5" width="2.3" height="8.4" fill="#fff"/><rect x="265.75" y="277.2" width="0.6" height="8.2" fill="#000" opacity="0.45"/><rect x="265.75" y="290.5" width="0.6" height="7.9" fill="#000" opacity="0.35"/><rect x="271.75" y="276.8" width="2.3" height="8.7" fill="#fff"/><rect x="271.75" y="290.5" width="2.3" height="8.4" fill="#fff"/><rect x="271.75" y="277.2" width="0.6" height="8.2" fill="#000" opacity="0.45"/><rect x="271.75" y="290.5" width="0.6" height="7.9" fill="#000" opacity="0.35"/><rect x="278" y="276.8" width="2.3" height="8.7" fill="#fff"/><rect x="278" y="290.5" width="2.3" height="8.4" fill="#fff"/><rect x="278" y="277.2" width="0.6" height="8.2" fill="#000" opacity="0.45"/><rect x="278" y="290.5" width="0.6" height="7.9" fill="#000" opacity="0.35"/><rect x="284" y="276.8" width="2.3" height="8.7" fill="#fff"/><rect x="284" y="290.5" width="2.3" height="8.4" fill="#fff"/><rect x="284" y="277.2" width="0.6" height="8.2" fill="#000" opacity="0.45"/><rect x="284" y="290.5" width="0.6" height="7.9" fill="#000" opacity="0.35"/><rect x="253" y="285.2" width="34" height="0.6" fill="#000" opacity="0.25"/><path d="M287 278 L297 271 L342 271 L342 305 L297 305 L287 299.5 Z" fill="url(#red)"/><path d="M287 278 L297 271 L342 271 L342 305 L297 305 L287 299.5 Z" fill="none" stroke="#000" stroke-opacity="0.12" stroke-width="0.8"/><path d="M300 271.8 L341 271.8 M300 304.2 L341 304.2" stroke="#000" stroke-width="1" stroke-dasharray="0.7 0.9" opacity="0.25"/><rect x="305" y="280.5" width="28.5" height="15.5" rx="7" fill="#ff5a5a"/><rect x="305" y="280.5" width="28.5" height="15.5" rx="7" fill="url(#hatch)"/><rect x="341.5" y="274" width="10" height="27" fill="url(#gold)"/><rect x="341.5" y="274" width="10" height="4" fill="#1a1400"/><rect x="341.5" y="297.5" width="10" height="3.5" fill="#1a1400"/><path d="M351 284 L372.5 284 Q375.8 284 375.8 287.3 Q375.8 290.6 372.5 290.6 L351 290.6 Z" fill="url(#pin)" stroke="#3a2e00" stroke-width="0.7"/>
<path d="M240 436.8 L284 435.5 L284 468.7 L240 467.9 Z" fill="#333"/>
<rect x="240.5" y="437" width="4.4" height="30.8" fill="#474747" opacity="0.8"/>
<rect x="250.5" y="437" width="4.4" height="30.8" fill="#474747" opacity="0.8"/>
<rect x="260.5" y="437" width="4.4" height="30.8" fill="#474747" opacity="0.8"/>
<rect x="270.8" y="437" width="4.4" height="30.8" fill="#474747" opacity="0.8"/>
<rect x="281" y="437" width="4.4" height="30.8" fill="#474747" opacity="0.8"/>
<rect x="245.1" y="437" width="4.9" height="8.5" fill="#262626"/>
<rect x="245.1" y="445.3" width="4.9" height="1.6" fill="#5a5a5a"/>
<rect x="245.1" y="446.9" width="4.9" height="1.6" fill="#1a1a1a"/>
<rect x="245.1" y="457.4" width="4.9" height="1.4" fill="#555"/>
<rect x="245.1" y="458.8" width="4.9" height="8.6" fill="#2a2a2a"/>
<rect x="255.2" y="437" width="4.9" height="8.5" fill="#262626"/>
<rect x="255.2" y="445.3" width="4.9" height="1.6" fill="#5a5a5a"/>
<rect x="255.2" y="446.9" width="4.9" height="1.6" fill="#1a1a1a"/>
<rect x="255.2" y="457.4" width="4.9" height="1.4" fill="#555"/>
<rect x="255.2" y="458.8" width="4.9" height="8.6" fill="#2a2a2a"/>
<rect x="265.2" y="437" width="4.9" height="8.5" fill="#262626"/>
<rect x="265.2" y="445.3" width="4.9" height="1.6" fill="#5a5a5a"/>
<rect x="265.2" y="446.9" width="4.9" height="1.6" fill="#1a1a1a"/>
<rect x="265.2" y="457.4" width="4.9" height="1.4" fill="#555"/>
<rect x="265.2" y="458.8" width="4.9" height="8.6" fill="#2a2a2a"/>
<rect x="275.7" y="437" width="4.9" height="8.5" fill="#262626"/>
<rect x="275.7" y="445.3" width="4.9" height="1.6" fill="#5a5a5a"/>
<rect x="275.7" y="446.9" width="4.9" height="1.6" fill="#1a1a1a"/>
<rect x="275.7" y="457.4" width="4.9" height="1.4" fill="#555"/>
<rect x="275.7" y="458.8" width="4.9" height="8.6" fill="#2a2a2a"/>
<rect x="240" y="448.6" width="44" height="8.8" fill="#1e1e1e" opacity="0.75"/>
<path d="M240 436.8 L284 435.5 L284 468.7 L240 467.9 Z" fill="none" stroke="#111" stroke-width="0.8"/>
<rect x="403" y="390.5" width="7.5" height="4" fill="#2a2a2a"/>
<rect x="435" y="391.5" width="22.5" height="3" fill="#3a3a3a"/>
<rect x="283.7" y="394" width="204" height="117.5" rx="5" fill="url(#boxg)"/>
<rect x="284.2" y="394.5" width="203" height="116.5" rx="4.8" fill="none" stroke="#0e0e0e" stroke-width="1"/>
<text transform="translate(340.97 461) scale(0.931 1)" font-size="17" fill="#ececec">A</text><text transform="translate(351.93 461) scale(0.894 1)" font-size="17" fill="#ececec">V</text><text transform="translate(366.34 461) scale(0.947 1)" font-size="17" fill="#ececec">T</text><text transform="translate(376.45 461) scale(0.931 1)" font-size="17" fill="#ececec">O</text><text transform="translate(393.25 461) scale(1.043 1)" font-size="17" fill="#ececec">H</text><text transform="translate(405.66 461) scale(1.102 1)" font-size="17" fill="#ececec">D</text><text transform="translate(419.55 461) scale(1.038 1)" font-size="17" fill="#ececec">M</text><text transform="translate(432.62 461) scale(1.261 1)" font-size="17" fill="#ececec">I</text>
<path d="M640.0 454.0 L641.5 454.0 L643.4 454.1 L645.7 454.1 L648.2 454.2 L650.9 454.3 L653.8 454.4 L656.7 454.5 L659.6 454.6 L662.4 454.8 L665.0 455.0 L667.5 455.2 L670.0 455.5 L672.6 455.7 L675.1 456.0 L677.7 456.3 L680.2 456.6 L682.7 457.0 L685.2 457.4 L687.6 457.9 L690.0 458.5 L692.3 459.1 L694.6 459.7 L696.8 460.4 L698.9 461.1 L701.1 461.9 L703.2 462.7 L705.3 463.7 L707.5 464.7 L709.7 465.8 L712.0 467.0 L714.3 468.3 L716.7 469.8 L719.1 471.3 L721.6 472.9 L724.1 474.7 L726.5 476.4 L729.0 478.3 L731.4 480.1 L733.7 482.1 L736.0 484.0 L738.3 486.0 L740.5 488.0 L742.7 490.1 L745.0 492.3 L747.1 494.5 L749.2 496.7 L751.3 499.0 L753.3 501.3 L755.2 503.7 L757.0 506.0 L758.7 508.4 L760.4 510.8 L762.0 513.3 L763.5 515.8 L764.9 518.3 L766.3 520.9 L767.6 523.4 L768.8 526.0 L769.9 528.5 L771.0 531.0 L772.0 533.5 L772.9 536.0 L773.8 538.5 L774.6 541.0 L775.3 543.4 L775.9 545.9 L776.4 548.4 L776.9 550.9 L777.2 553.5 L777.5 556.0 L777.6 558.6 L777.7 561.1 L777.6 563.7 L777.5 566.3 L777.3 568.9 L777.0 571.6 L776.6 574.2 L776.1 576.8 L775.6 579.4 L775.0 582.0 L774.3 584.6 L773.6 587.3 L772.8 590.0 L772.0 592.7 L771.0 595.3 L770.0 598.0 L768.9 600.6 L767.7 603.2 L766.4 605.6 L765.0 608.0 L763.5 610.3 L761.9 612.5 L760.2 614.7 L758.4 616.9 L756.5 619.0 L754.5 621.0 L752.5 623.0 L750.4 624.9 L748.2 626.7 L746.0 628.5 L743.7 630.2 L741.3 631.9 L738.8 633.5 L736.2 635.0 L733.6 636.5 L730.9 637.9 L728.2 639.2 L725.4 640.5 L722.7 641.8 L720.0 643.0 L717.3 644.1 L714.5 645.2 L711.7 646.3 L708.9 647.2 L706.1 648.2 L703.2 649.0 L700.4 649.8 L697.6 650.6 L694.8 651.3 L692.0 652.0 L689.3 652.6 L686.5 653.2 L683.8 653.7 L681.0 654.1 L678.3 654.5 L675.6 654.9 L672.9 655.2 L670.3 655.5 L667.6 655.7 L665.0 656.0 L662.3 656.2 L659.5 656.4 L656.6 656.6 L653.7 656.7 L650.8 656.8 L648.1 656.8 L645.6 656.9 L643.4 656.9 L641.5 657.0 L640.0 657.0" fill="none" stroke="#101010" stroke-width="16.5" stroke-linecap="butt" stroke-linejoin="round"/>
<path d="M640.0 452.5 L641.5 452.5 L643.4 452.6 L645.7 452.6 L648.2 452.7 L651.0 452.8 L653.9 452.9 L656.8 453.0 L659.7 453.1 L662.5 453.3 L665.1 453.5 L667.6 453.7 L670.2 454.0 L672.7 454.2 L675.3 454.5 L677.9 454.8 L680.4 455.1 L683.0 455.5 L685.5 456.0 L687.9 456.5 L690.4 457.0 L692.7 457.7 L695.0 458.3 L697.2 459.0 L699.4 459.7 L701.6 460.5 L703.8 461.4 L706.0 462.3 L708.2 463.3 L710.4 464.5 L712.7 465.7 L715.1 467.0 L717.5 468.5 L720.0 470.1 L722.4 471.7 L724.9 473.4 L727.4 475.2 L729.9 477.1 L732.3 479.0 L734.7 480.9 L737.0 482.9 L739.3 484.9 L741.5 486.9 L743.8 489.1 L746.0 491.2 L748.2 493.5 L750.3 495.7 L752.4 498.0 L754.4 500.4 L756.4 502.7 L758.2 505.1 L759.9 507.5 L761.6 510.0 L763.2 512.5 L764.8 515.0 L766.2 517.6 L767.6 520.2 L768.9 522.7 L770.2 525.3 L771.3 527.9 L772.4 530.4 L773.4 533.0 L774.3 535.5 L775.2 538.0 L776.0 540.5 L776.7 543.0 L777.4 545.6 L777.9 548.1 L778.4 550.7 L778.7 553.3 L779.0 555.9 L779.1 558.5 L779.2 561.1 L779.1 563.8 L779.0 566.4 L778.8 569.1 L778.5 571.7 L778.1 574.4 L777.6 577.1 L777.1 579.7 L776.5 582.3 L775.8 585.0 L775.1 587.7 L774.3 590.4 L773.4 593.1 L772.4 595.9 L771.4 598.6 L770.3 601.2 L769.0 603.8 L767.7 606.4 L766.3 608.8 L764.7 611.1 L763.1 613.4 L761.3 615.7 L759.5 617.9 L757.6 620.0 L755.6 622.1 L753.5 624.1 L751.4 626.0 L749.2 627.9 L746.9 629.7 L744.6 631.4 L742.1 633.1 L739.6 634.7 L736.9 636.3 L734.3 637.8 L731.6 639.2 L728.8 640.6 L726.1 641.9 L723.3 643.2 L720.6 644.4 L717.8 645.5 L715.0 646.6 L712.2 647.7 L709.4 648.7 L706.5 649.6 L703.7 650.5 L700.8 651.3 L698.0 652.1 L695.1 652.8 L692.3 653.5 L689.6 654.1 L686.8 654.6 L684.0 655.1 L681.3 655.6 L678.5 656.0 L675.8 656.3 L673.1 656.7 L670.4 657.0 L667.8 657.2 L665.1 657.5 L662.4 657.7 L659.6 657.9 L656.6 658.1 L653.7 658.2 L650.9 658.2 L648.1 658.3 L645.6 658.4 L643.4 658.4 L641.5 658.5 L640.0 658.5" fill="none" stroke="#1e1e1e" stroke-width="10" stroke-linejoin="round"/>
<path d="M640.1 451.5 L641.6 451.5 L643.5 451.6 L645.7 451.6 L648.3 451.7 L651.0 451.8 L653.9 451.9 L656.8 452.0 L659.7 452.1 L662.6 452.3 L665.2 452.5 L667.7 452.7 L670.3 453.0 L672.8 453.2 L675.4 453.5 L678.0 453.8 L680.6 454.1 L683.1 454.5 L685.7 455.0 L688.2 455.5 L690.6 456.1 L693.0 456.7 L695.3 457.3 L697.5 458.0 L699.7 458.8 L701.9 459.6 L704.2 460.4 L706.4 461.4 L708.6 462.4 L710.9 463.6 L713.2 464.8 L715.6 466.2 L718.0 467.7 L720.5 469.2 L723.0 470.9 L725.5 472.6 L728.0 474.4 L730.5 476.3 L732.9 478.2 L735.3 480.1 L737.6 482.1 L739.9 484.1 L742.2 486.2 L744.5 488.3 L746.7 490.5 L748.9 492.8 L751.1 495.0 L753.2 497.4 L755.2 499.7 L757.2 502.1 L759.0 504.5 L760.8 506.9 L762.5 509.4 L764.1 512.0 L765.6 514.5 L767.1 517.1 L768.5 519.7 L769.8 522.3 L771.1 524.9 L772.2 527.5 L773.3 530.0 L774.3 532.6 L775.3 535.1 L776.2 537.7 L777.0 540.2 L777.7 542.8 L778.3 545.4 L778.9 547.9 L779.4 550.5 L779.7 553.2 L780.0 555.8 L780.1 558.5 L780.2 561.1 L780.1 563.8 L780.0 566.5 L779.8 569.2 L779.5 571.9 L779.1 574.6 L778.6 577.2 L778.0 579.9 L777.4 582.6 L776.8 585.3 L776.0 588.0 L775.2 590.7 L774.3 593.5 L773.4 596.2 L772.3 598.9 L771.2 601.6 L769.9 604.3 L768.6 606.8 L767.1 609.3 L765.6 611.7 L763.9 614.0 L762.1 616.3 L760.3 618.5 L758.3 620.7 L756.3 622.8 L754.2 624.8 L752.0 626.8 L749.8 628.6 L747.5 630.5 L745.1 632.3 L742.7 634.0 L740.1 635.6 L737.4 637.2 L734.8 638.7 L732.0 640.1 L729.3 641.5 L726.5 642.8 L723.7 644.1 L721.0 645.3 L718.2 646.5 L715.4 647.6 L712.6 648.6 L709.7 649.6 L706.8 650.5 L703.9 651.4 L701.1 652.2 L698.2 653.0 L695.4 653.8 L692.6 654.4 L689.8 655.1 L687.0 655.6 L684.2 656.1 L681.4 656.6 L678.7 657.0 L675.9 657.3 L673.2 657.7 L670.5 658.0 L667.9 658.2 L665.2 658.5 L662.5 658.7 L659.6 658.9 L656.7 659.0 L653.7 659.2 L650.9 659.2 L648.2 659.3 L645.7 659.4 L643.4 659.4 L641.5 659.5 L640.1 659.5" fill="none" stroke="#2c2c2c" stroke-width="5" stroke-linejoin="round"/>
<path d="M640.1 451.2 L641.6 451.2 L643.5 451.3 L645.7 451.3 L648.3 451.4 L651.0 451.5 L653.9 451.6 L656.8 451.7 L659.8 451.8 L662.6 452.0 L665.2 452.2 L667.8 452.4 L670.3 452.7 L672.9 452.9 L675.5 453.2 L678.0 453.5 L680.6 453.8 L683.2 454.2 L685.7 454.7 L688.2 455.2 L690.7 455.8 L693.0 456.4 L695.3 457.1 L697.6 457.7 L699.8 458.5 L702.1 459.3 L704.3 460.2 L706.5 461.1 L708.7 462.2 L711.0 463.3 L713.4 464.6 L715.8 465.9 L718.2 467.4 L720.7 469.0 L723.2 470.6 L725.7 472.4 L728.2 474.2 L730.7 476.0 L733.1 478.0 L735.5 479.9 L737.8 481.9 L740.1 483.9 L742.4 486.0 L744.7 488.1 L746.9 490.3 L749.1 492.6 L751.3 494.8 L753.4 497.2 L755.4 499.5 L757.4 501.9 L759.2 504.3 L761.0 506.8 L762.7 509.3 L764.3 511.8 L765.9 514.4 L767.4 517.0 L768.8 519.6 L770.1 522.2 L771.3 524.8 L772.5 527.4 L773.6 529.9 L774.6 532.5 L775.6 535.0 L776.4 537.6 L777.3 540.1 L778.0 542.7 L778.6 545.3 L779.2 547.9 L779.7 550.5 L780.0 553.1 L780.3 555.8 L780.4 558.5 L780.5 561.1 L780.4 563.8 L780.3 566.5 L780.1 569.2 L779.7 571.9 L779.3 574.6 L778.9 577.3 L778.3 580.0 L777.7 582.7 L777.1 585.3 L776.3 588.0 L775.5 590.8 L774.6 593.6 L773.7 596.3 L772.6 599.0 L771.5 601.7 L770.2 604.4 L768.8 607.0 L767.4 609.5 L765.8 611.9 L764.1 614.2 L762.4 616.5 L760.5 618.7 L758.5 620.9 L756.5 623.0 L754.4 625.0 L752.2 627.0 L750.0 628.9 L747.7 630.7 L745.3 632.5 L742.8 634.2 L740.2 635.8 L737.6 637.4 L734.9 638.9 L732.2 640.4 L729.4 641.8 L726.6 643.1 L723.9 644.4 L721.1 645.6 L718.3 646.7 L715.5 647.8 L712.7 648.9 L709.8 649.9 L706.9 650.8 L704.0 651.7 L701.1 652.5 L698.3 653.3 L695.4 654.0 L692.6 654.7 L689.8 655.4 L687.0 655.9 L684.2 656.4 L681.5 656.9 L678.7 657.3 L676.0 657.6 L673.2 658.0 L670.6 658.3 L667.9 658.5 L665.3 658.8 L662.5 659.0 L659.6 659.2 L656.7 659.3 L653.8 659.5 L650.9 659.5 L648.2 659.6 L645.7 659.7 L643.4 659.7 L641.6 659.8 L640.1 659.8" fill="none" stroke="#3a3a3a" stroke-width="1.6" stroke-linejoin="round" opacity="0.8"/>
<rect x="500.3" y="433" width="28" height="40" fill="#8a8a8a"/><rect x="500.3" y="433" width="28" height="3.2" fill="#ececec"/><rect x="500.3" y="436.2" width="28" height="1.4" fill="#5c5c5c"/><rect x="500.3" y="466.8" width="28" height="4.2" fill="#5a5a5a"/><rect x="500.3" y="471" width="28" height="2" fill="#a0a0a0"/><rect x="500.3" y="452.5" width="28" height="0.7" fill="#a8a8a8" opacity="0.7"/><g fill="none" stroke="#c4c4c4" stroke-width="0.7"><rect x="511.8" y="444" width="3.4" height="2.4"/><circle cx="513.5" cy="458.3" r="1.6"/><circle cx="508" cy="451.2" r="0.9"/><circle cx="519" cy="451.2" r="0.9"/></g><rect x="511.5" y="447.8" width="4" height="1" fill="#e0e0e0"/><rect x="511.5" y="461.2" width="4" height="1" fill="#e0e0e0"/><path d="M527.3 423 L555 423 L559 426.2 L563 423.3 L572 423.3 L581 431 L609.4 431 L609.4 473.4 L581 473.4 L572 481.7 L563 481.7 L559 478.4 L555 481.8 L527.3 481.8 Z" fill="url(#hbody)" stroke="#1a1a1a" stroke-width="0.8" stroke-linejoin="round"/><rect x="622" y="444.5" width="7" height="15" fill="url(#srg)"/><rect x="609.5" y="438.75" width="14" height="28.2" rx="1.5" fill="url(#srg)" stroke="#0c0c0c" stroke-width="0.8"/><rect x="627.4" y="438.75" width="14.2" height="28.2" rx="1.5" fill="url(#srg)" stroke="#0c0c0c" stroke-width="0.8"/><rect x="614" y="439" width="1.6" height="27.7" fill="#111" opacity="0.55"/><rect x="619" y="439" width="1.6" height="27.7" fill="#111" opacity="0.55"/><rect x="631.5" y="439" width="1.6" height="27.7" fill="#111" opacity="0.55"/><rect x="636.5" y="439" width="1.6" height="27.7" fill="#111" opacity="0.55"/>
<rect x="500.3" y="637" width="28" height="40" fill="#8a8a8a"/><rect x="500.3" y="637" width="28" height="3.2" fill="#ececec"/><rect x="500.3" y="640.2" width="28" height="1.4" fill="#5c5c5c"/><rect x="500.3" y="670.8" width="28" height="4.2" fill="#5a5a5a"/><rect x="500.3" y="675" width="28" height="2" fill="#a0a0a0"/><rect x="500.3" y="656.5" width="28" height="0.7" fill="#a8a8a8" opacity="0.7"/><g fill="none" stroke="#c4c4c4" stroke-width="0.7"><rect x="511.8" y="648" width="3.4" height="2.4"/><circle cx="513.5" cy="662.3" r="1.6"/><circle cx="508" cy="655.2" r="0.9"/><circle cx="519" cy="655.2" r="0.9"/></g><rect x="511.5" y="651.8" width="4" height="1" fill="#e0e0e0"/><rect x="511.5" y="665.2" width="4" height="1" fill="#e0e0e0"/><path d="M527.3 627 L555 627 L559 630.2 L563 627.3 L572 627.3 L581 635 L609.4 635 L609.4 677.4 L581 677.4 L572 685.7 L563 685.7 L559 682.4 L555 685.8 L527.3 685.8 Z" fill="url(#hbody)" stroke="#1a1a1a" stroke-width="0.8" stroke-linejoin="round"/><rect x="622" y="648.5" width="7" height="15" fill="url(#srg)"/><rect x="609.5" y="642.75" width="14" height="28.2" rx="1.5" fill="url(#srg)" stroke="#0c0c0c" stroke-width="0.8"/><rect x="627.4" y="642.75" width="14.2" height="28.2" rx="1.5" fill="url(#srg)" stroke="#0c0c0c" stroke-width="0.8"/><rect x="614" y="643" width="1.6" height="27.7" fill="#111" opacity="0.55"/><rect x="619" y="643" width="1.6" height="27.7" fill="#111" opacity="0.55"/><rect x="631.5" y="643" width="1.6" height="27.7" fill="#111" opacity="0.55"/><rect x="636.5" y="643" width="1.6" height="27.7" fill="#111" opacity="0.55"/>
<clipPath id="clipL"><rect x="80" y="400" width="53" height="80"/></clipPath>
<path d="M242.0 451.5 L239.5 451.5 L236.4 451.4 L232.7 451.4 L228.6 451.3 L224.1 451.3 L219.4 451.2 L214.5 451.1 L209.6 451.0 L204.7 450.9 L200.0 450.8 L195.3 450.7 L190.5 450.6 L185.6 450.5 L180.6 450.3 L175.5 450.2 L170.4 450.0 L165.3 449.8 L160.1 449.5 L155.0 449.1 L150.0 448.6 L145.0 448.0 L139.9 447.4 L134.7 446.8 L129.6 446.1 L124.5 445.3 L119.4 444.4 L114.4 443.5 L109.5 442.4 L104.7 441.3 L100.0 440.0 L95.4 438.6 L90.8 437.1 L86.2 435.4 L81.7 433.7 L77.3 431.9 L73.0 430.0 L69.0 428.1 L65.1 426.1 L61.4 424.0 L58.0 422.0 L54.9 419.9 L52.0 417.7 L49.3 415.5 L46.9 413.2 L44.6 410.9 L42.4 408.5 L40.4 406.1 L38.5 403.7 L36.7 401.4 L35.0 399.0 L33.4 396.6 L31.9 394.3 L30.6 391.9 L29.4 389.5 L28.3 387.1 L27.3 384.7 L26.4 382.3 L25.5 379.9 L24.7 377.4 L24.0 375.0 L23.3 372.5 L22.7 370.1 L22.2 367.6 L21.7 365.1 L21.3 362.6 L21.0 360.0 L20.8 357.5 L20.6 355.0 L20.5 352.5 L20.5 350.0 L20.5 347.5 L20.6 345.1 L20.7 342.7 L20.9 340.3 L21.2 337.9 L21.5 335.4 L22.0 332.9 L22.5 330.4 L23.2 327.7 L24.0 325.0 L24.9 322.1 L26.0 319.1 L27.1 316.0 L28.4 312.8 L29.7 309.6 L31.2 306.3 L32.7 303.1 L34.4 300.0 L36.1 296.9 L38.0 294.0 L39.9 291.2 L41.9 288.3 L44.0 285.5 L46.2 282.8 L48.5 280.1 L50.9 277.4 L53.5 274.9 L56.1 272.5 L59.0 270.2 L62.0 268.0 L65.2 266.0 L68.5 264.0 L72.0 262.2 L75.6 260.5 L79.4 258.9 L83.3 257.4 L87.3 255.9 L91.4 254.6 L95.7 253.3 L100.0 252.0 L104.7 250.8 L110.0 249.7 L115.7 248.6 L121.5 247.7 L127.4 246.8 L133.0 245.9 L138.3 245.2 L143.0 244.5 L147.0 244.0 L150.0 243.5" fill="none" stroke="url(#arrL)" stroke-width="16" clip-path="url(#clipL)"/>
<path d="M242.0 454.4 L239.5 454.4 L236.4 454.3 L232.7 454.3 L228.6 454.2 L224.1 454.2 L219.3 454.1 L214.5 454.0 L209.5 453.9 L204.6 453.8 L199.9 453.7 L195.3 453.6 L190.4 453.5 L185.5 453.4 L180.5 453.2 L175.4 453.1 L170.3 452.9 L165.1 452.7 L159.9 452.4 L154.8 452.0 L149.7 451.5 L144.6 450.9 L139.5 450.3 L134.4 449.7 L129.2 448.9 L124.0 448.2 L118.9 447.3 L113.9 446.3 L108.9 445.1 L104.0 443.9 L99.3 442.6 L94.6 441.1 L90.0 439.6 L85.3 437.9 L80.8 436.1 L76.4 434.2 L72.0 432.3 L67.9 430.2 L64.0 428.2 L60.2 426.1 L56.8 424.0 L53.6 421.8 L50.6 419.5 L47.9 417.2 L45.3 414.8 L43.0 412.4 L40.8 409.9 L38.8 407.5 L36.9 405.0 L35.1 402.6 L33.4 400.2 L31.7 397.8 L30.2 395.3 L28.9 392.8 L27.6 390.4 L26.5 387.9 L25.5 385.4 L24.6 383.0 L23.8 380.5 L23.0 378.0 L22.3 375.5 L21.6 373.0 L21.0 370.5 L20.5 367.9 L20.0 365.4 L19.7 362.8 L19.3 360.2 L19.1 357.7 L18.9 355.1 L18.8 352.5 L18.8 350.0 L18.8 347.5 L18.9 345.0 L19.0 342.6 L19.2 340.1 L19.5 337.7 L19.8 335.2 L20.3 332.6 L20.9 330.0 L21.6 327.3 L22.4 324.5 L23.3 321.6 L24.4 318.5 L25.5 315.4 L26.8 312.2 L28.2 308.9 L29.6 305.6 L31.2 302.4 L32.9 299.2 L34.7 296.0 L36.6 293.1 L38.5 290.2 L40.6 287.3 L42.7 284.5 L44.9 281.7 L47.2 278.9 L49.7 276.3 L52.3 273.7 L55.0 271.2 L58.0 268.8 L61.0 266.6 L64.3 264.5 L67.7 262.5 L71.2 260.7 L74.9 259.0 L78.7 257.3 L82.7 255.8 L86.7 254.3 L90.9 252.9 L95.2 251.6 L99.6 250.4 L104.4 249.2 L109.7 248.0 L115.4 247.0 L121.3 246.0 L127.1 245.1 L132.8 244.2 L138.1 243.5 L142.8 242.9 L146.7 242.3 L149.7 241.8" fill="none" stroke="#0a2a40" stroke-width="0.8" opacity="0.3" clip-path="url(#clipL)"/>
<path d="M242.0 448.8 L239.6 448.8 L236.4 448.7 L232.8 448.7 L228.6 448.6 L224.2 448.6 L219.4 448.5 L214.6 448.4 L209.6 448.3 L204.8 448.2 L200.1 448.1 L195.4 448.0 L190.6 447.9 L185.6 447.8 L180.6 447.6 L175.6 447.5 L170.5 447.3 L165.4 447.1 L160.3 446.8 L155.3 446.4 L150.3 445.9 L145.3 445.4 L140.2 444.8 L135.1 444.1 L130.0 443.4 L124.9 442.6 L119.9 441.8 L114.9 440.8 L110.1 439.8 L105.3 438.7 L100.7 437.4 L96.2 436.0 L91.7 434.5 L87.2 432.9 L82.7 431.2 L78.4 429.4 L74.2 427.6 L70.1 425.6 L66.3 423.7 L62.7 421.7 L59.4 419.7 L56.4 417.7 L53.7 415.6 L51.1 413.5 L48.7 411.3 L46.5 409.0 L44.5 406.7 L42.5 404.4 L40.7 402.1 L38.9 399.8 L37.2 397.4 L35.6 395.2 L34.2 392.9 L33.0 390.6 L31.8 388.3 L30.8 386.0 L29.8 383.7 L28.9 381.4 L28.1 379.0 L27.3 376.6 L26.6 374.2 L25.9 371.9 L25.3 369.5 L24.8 367.1 L24.4 364.6 L24.0 362.2 L23.7 359.8 L23.5 357.3 L23.3 354.9 L23.2 352.4 L23.2 350.0 L23.2 347.6 L23.3 345.2 L23.4 342.9 L23.6 340.5 L23.8 338.2 L24.2 335.9 L24.6 333.5 L25.1 331.0 L25.8 328.5 L26.6 325.8 L27.5 323.0 L28.5 320.0 L29.6 316.9 L30.9 313.8 L32.2 310.6 L33.6 307.5 L35.1 304.3 L36.8 301.3 L38.5 298.3 L40.3 295.5 L42.2 292.7 L44.1 289.9 L46.2 287.2 L48.3 284.5 L50.5 281.9 L52.9 279.3 L55.3 276.9 L57.9 274.5 L60.6 272.3 L63.5 270.2 L66.6 268.3 L69.8 266.4 L73.2 264.6 L76.7 263.0 L80.4 261.4 L84.2 259.9 L88.2 258.5 L92.2 257.1 L96.4 255.8 L100.7 254.6 L105.3 253.4 L110.6 252.3 L116.2 251.3 L122.0 250.3 L127.8 249.4 L133.4 248.6 L138.7 247.9 L143.4 247.2 L147.4 246.6 L150.4 246.2" fill="none" stroke="#0a2a40" stroke-width="0.8" opacity="0.3" clip-path="url(#clipL)"/>
<path d="M242.1 443.2 L239.6 443.2 L236.5 443.1 L232.8 443.1 L228.7 443.0 L224.2 443.0 L219.5 442.9 L214.7 442.8 L209.8 442.7 L204.9 442.6 L200.2 442.5 L195.5 442.4 L190.7 442.3 L185.8 442.2 L180.8 442.0 L175.8 441.9 L170.7 441.7 L165.7 441.5 L160.7 441.2 L155.7 440.8 L150.9 440.3 L145.9 439.8 L140.9 439.2 L135.8 438.6 L130.8 437.9 L125.8 437.1 L120.9 436.3 L116.0 435.4 L111.3 434.4 L106.7 433.4 L102.2 432.2 L97.8 430.9 L93.4 429.5 L89.0 428.0 L84.6 426.3 L80.4 424.6 L76.3 422.9 L72.4 421.0 L68.7 419.2 L65.2 417.3 L62.1 415.5 L59.3 413.6 L56.7 411.7 L54.3 409.8 L52.1 407.7 L50.0 405.7 L48.1 403.5 L46.2 401.4 L44.4 399.1 L42.7 396.9 L41.0 394.7 L39.6 392.6 L38.3 390.5 L37.1 388.4 L36.0 386.3 L35.0 384.2 L34.1 382.0 L33.2 379.8 L32.4 377.6 L31.6 375.3 L30.9 373.0 L30.3 370.7 L29.7 368.4 L29.2 366.2 L28.7 363.9 L28.4 361.6 L28.1 359.3 L27.9 357.0 L27.7 354.6 L27.6 352.3 L27.6 350.0 L27.6 347.6 L27.7 345.4 L27.8 343.1 L28.0 341.0 L28.2 338.8 L28.5 336.6 L28.9 334.3 L29.4 332.0 L30.0 329.6 L30.8 327.1 L31.7 324.4 L32.7 321.5 L33.8 318.5 L34.9 315.5 L36.2 312.4 L37.6 309.3 L39.1 306.3 L40.6 303.4 L42.2 300.6 L43.9 297.9 L45.8 295.2 L47.7 292.5 L49.7 289.8 L51.7 287.3 L53.8 284.8 L56.0 282.4 L58.3 280.1 L60.8 277.9 L63.3 275.8 L66.0 273.9 L68.9 272.0 L71.9 270.3 L75.1 268.6 L78.5 267.0 L82.1 265.5 L85.8 264.0 L89.6 262.6 L93.6 261.3 L97.7 260.1 L101.8 258.9 L106.3 257.7 L111.4 256.6 L116.9 255.6 L122.7 254.7 L128.4 253.8 L134.0 253.0 L139.3 252.2 L144.0 251.6 L148.0 251.0 L151.1 250.5" fill="none" stroke="#0a2a40" stroke-width="0.8" opacity="0.3" clip-path="url(#clipL)"/>
<path d="M132.3 430.7 L153.7 449.8 L126 457.7 Z" fill="#1a9be0"/>
<path d="M630 444.4 L665 444.4 L665 437.5 L689.4 451.3 L665 465 L665 460.6 L630 460.6 Z" fill="url(#arrR)"/>
<path d="M665 437.5 L689.4 451.3 L665 465 Z" fill="#1a9be0"/>
<rect x="196.5" y="450" width="2" height="57.5" fill="#1a8fd6"/>
<rect x="601.5" y="452" width="2" height="57" fill="#1a8fd6"/>
<text transform="translate(145.53 534.7) scale(0.853 1)" font-size="24" font-weight="bold" fill="#111">R</text><text transform="translate(160.65 534.7) scale(0.860 1)" font-size="24" font-weight="bold" fill="#111">C</text><text transform="translate(175.21 534.7) scale(0.981 1)" font-size="24" font-weight="bold" fill="#111">A</text><text transform="translate(197.76 534.7) scale(1.215 1)" font-size="24" font-weight="bold" fill="#111">i</text><text transform="translate(205.70 534.7) scale(0.979 1)" font-size="24" font-weight="bold" fill="#111">n</text><text transform="translate(220.16 534.7) scale(0.976 1)" font-size="24" font-weight="bold" fill="#111">p</text><text transform="translate(235.20 534.7) scale(0.940 1)" font-size="24" font-weight="bold" fill="#111">u</text><text transform="translate(250.65 534.7) scale(1.181 1)" font-size="24" font-weight="bold" fill="#111">t</text>
<text transform="translate(545.35 535.2) scale(1.028 1)" font-size="24" font-weight="bold" fill="#111">H</text><text transform="translate(563.36 535.2) scale(1.019 1)" font-size="24" font-weight="bold" fill="#111">D</text><text transform="translate(581.23 535.2) scale(1.102 1)" font-size="24" font-weight="bold" fill="#111">M</text><text transform="translate(603.14 535.2) scale(1.157 1)" font-size="24" font-weight="bold" fill="#111">I</text><text transform="translate(616.23 535.2) scale(1.142 1)" font-size="24" font-weight="bold" fill="#111">o</text><text transform="translate(632.54 535.2) scale(1.113 1)" font-size="24" font-weight="bold" fill="#111">u</text><text transform="translate(647.36 535.2) scale(1.350 1)" font-size="24" font-weight="bold" fill="#111">t</text><text transform="translate(657.73 535.2) scale(1.116 1)" font-size="24" font-weight="bold" fill="#111">p</text><text transform="translate(673.61 535.2) scale(1.070 1)" font-size="24" font-weight="bold" fill="#111">u</text><text transform="translate(687.91 535.2) scale(0.986 1)" font-size="24" font-weight="bold" fill="#111">t</text>
<text x="400.5" y="307.8" font-size="14.5" fill="#1e1e1e" stroke="#1e1e1e" stroke-width="0.12" lengthAdjust="spacingAndGlyphs" textLength="95.5">Game console</text>
<text x="530.5" y="308.3" font-size="14.5" fill="#1e1e1e" stroke="#1e1e1e" stroke-width="0.12" lengthAdjust="spacingAndGlyphs" textLength="81">Set-top box</text>
<text x="641" y="308.2" font-size="14.5" fill="#1e1e1e" stroke="#1e1e1e" stroke-width="0.12" lengthAdjust="spacingAndGlyphs" textLength="75.5">DVD / VCD</text>
<text x="101.3" y="714.8" font-size="14.5" fill="#1e1e1e" stroke="#1e1e1e" stroke-width="0.12" lengthAdjust="spacingAndGlyphs" textLength="63.5">Projector</text>
<text x="238" y="714.8" font-size="14.5" fill="#1e1e1e" stroke="#1e1e1e" stroke-width="0.12" lengthAdjust="spacingAndGlyphs" textLength="68.5">Computer</text>
<text x="398.5" y="715" font-size="14.5" fill="#1e1e1e" stroke="#1e1e1e" stroke-width="0.12" lengthAdjust="spacingAndGlyphs" textLength="17">TV</text>
<path d="M420.2 189.6 L443 185.5 L445 187.2 C447 198 450.5 220 452.5 245 L454.2 278 L421 278 Z" fill="url(#ps5g)"/>
<path d="M455.5 185.6 L462 185.2 L462 250 L459.4 250 L458 197 Q457.8 191.5 455 188.5 Z" fill="#e9e9f1"/>
<path d="M445 187.2 Q451 185.5 455 188.5 Q457.8 191.5 458 197 L459.5 278 L454.2 278 L452.5 245 C450.5 220 447 198 445 187.2 Z" fill="#141418"/>
<path d="M445.7 189.5 C447.5 200 450 215 451.3 232" fill="none" stroke="#3038b8" stroke-width="0.9" opacity="0.9"/>
<rect x="424.7" y="277" width="35" height="3.3" fill="#151515"/>
<path d="M459.5 245.8 L478.8 243 L487 252 L485 257.5 L476 276 L474 274 Q472 262 469 252 L462 246.5 Z" fill="#111"/>
<path d="M454.7 244.5 Q456 241 459.5 239.6 Q463 237.5 467.8 236.2 L478 233.5 Q481 234 481.5 235.5 L482.2 239.6 Q481 241.5 478.8 242.4 L467.8 243.8 L458.1 245.8 Q455 246.3 454.7 244.5 Z" fill="#f3f3f8"/>
<path d="M478.8 242.4 L483 239.6 Q487 245 491.2 252 L496 255.5 Q498.5 257.5 498 260.3 Q496 265 492.5 268.5 Q487 273 481.5 275.4 L476 276.8 Q474.3 276.5 474.6 274.7 L485 259 Q486.5 256 486.3 253.4 Z" fill="#efeff6"/>
<path d="M478.8 232.8 L483 235.5 L482.3 236.8 L478 234 Z" fill="#1a1a1a"/>
<path d="M494.6 254.8 L498 259 L497.6 261 L494.5 257 Z" fill="#1a1a1a"/>
<path d="M483 239.6 L478.8 242.4" stroke="#555" stroke-width="0.5"/>
<path d="M530.8 258 L606 258 L605.6 265.5 Q605.3 269 601.5 269 L535 269 Q531.3 269 531.1 265.5 Z" fill="#151515"/>
<path d="M531 259.2 L605.8 259.2" stroke="#2c2c2c" stroke-width="0.9"/>
<path d="M540 214.6 L598.5 214.6 Q603 214.6 603.6 219 L606.4 253.5 Q606.8 258.6 602 258.6 L535 258.6 Q530.2 258.6 530.6 253.5 L534.4 219 Q535 214.6 540 214.6 Z" fill="#0c0c0c"/>
<path d="M540 214.6 L598.5 214.6 Q601 214.6 602.5 216 L532 257.5 Q530.4 256 530.6 253.5 L534.4 219 Q535 214.6 540 214.6 Z" fill="url(#stbg)"/>
<path d="M648.2 254.3 L725.9 232.3 L725.9 241.3 L648.9 267.4 Z" fill="#2b2c30" stroke="#2b2c30" stroke-width="0.4"/>
<path d="M629.6 222 L648.2 254.3 L648.9 267.4 L630.3 226.1 Z" fill="#1e1f23" stroke="#1e1f23" stroke-width="0.4"/>
<path d="M629.6 222 L691.5 209.9 L725.9 232.3 L648.2 254.3 Z" fill="#424347" stroke="#424347" stroke-width="0.4"/>
<path d="M648.2 254.3 L725.9 232.3" stroke="#5a5b60" stroke-width="0.7"/>
<path d="M692 246 L720 238" stroke="#4a4a50" stroke-width="2"/>
<path d="M692 246 L720 238" stroke="#202024" stroke-width="0.8"/>
<path d="M647.1 222.7 L651 219.9 L688.1 226.8 L685.3 233.7 Z" fill="#1c1c20"/>
<path d="M648.5 222.3 L651.3 220.6 L686.5 227.2 L684.5 230.5 Z" fill="#2e2e33"/>
<path d="M652 221.6 L670 225" stroke="#d8d8d8" stroke-width="1.3" stroke-dasharray="2 0.8" opacity="0.85"/>
<path d="M654.4 258.5 L685.3 254.3 L695.7 268.1 L666.8 281.2 Z" fill="#1b1b20"/>
<ellipse cx="675" cy="264" rx="13.2" ry="10.2" transform="rotate(-12 675 264)" fill="url(#disc)"/>
<path d="M667 258 Q675 255 681 259" stroke="#bfe8ff" stroke-width="1.2" fill="none" opacity="0.6"/>
<ellipse cx="675" cy="264" rx="3" ry="2.3" fill="#d0d0d8"/>
<ellipse cx="675" cy="264" rx="1.1" ry="0.8" fill="#888"/>
<path d="M88.5 644 Q88 643 90 642 L119 623.8 Q121 623 123 623.4 L177.5 634.5 Q180 635.5 179.5 637.5 L178.5 667 Q178 669.5 176 671 L159 688 Q157 689.5 154 689 L91 676 Q88.5 675.5 88.3 673 Z" fill="#f2f2f2"/>
<path d="M87.6 646 L157 662.5 L179.7 635.6" fill="none" stroke="#dcdcdc" stroke-width="0.8"/>
<path d="M119 653.5 L157 662.5 L157 689 L120 676 Z" fill="#fbfbfb"/>
<path d="M157 662.5 L179.5 636.5 L178.5 667 Q178 669.5 176 671 L159 688 L157 689 Z" fill="#e9e9e9"/>
<path d="M160 680 L175 664" stroke="#d0d0d0" stroke-width="4" opacity="0.5"/>
<path d="M88 647 Q87.5 645.5 89.5 646 L116 652.5 Q119 653.5 119.2 656 L119.8 673 Q120 676 117 675.5 L91 670.5 Q88.5 670 88.4 667 Z" fill="#2b2b2b"/>
<ellipse cx="102" cy="660" rx="10" ry="11.3" fill="#0c0c0c"/>
<ellipse cx="103.3" cy="660" rx="6.8" ry="9.3" fill="url(#lens)"/>
<path d="M94.5 644 L115.5 629.4 Q117 628.6 119 629 L128 631.5 Q129.5 632 128.5 633 L110 646.5 Q109 647.3 107.5 647 L95.5 645.3 Q94 645 94.5 644 Z" fill="#181818"/>
<path d="M171 648 L178 641" stroke="#555" stroke-width="1.2" stroke-dasharray="1 1"/>
<path d="M217 627.5 L284.3 624.3 L284.3 675 L217 672.5 Z" fill="#111"/>
<path d="M219 629.5 L282.3 626.6 L282.3 672.3 L219 670.5 Z" fill="url(#mon)"/>
<rect x="248" y="674" width="11" height="7" fill="#1a1a1a"/>
<path d="M232 679.5 L268 680 L270 685 L230 684.5 Z" fill="#2a2a2a"/>
<path d="M232 679.5 L268 680" stroke="#777" stroke-width="0.6"/>
<path d="M296 623.5 L324 622 L323.5 690 L294.5 688.5 Z" fill="#070707"/>
<path d="M324 622 L328.5 628 L328 684 L323.5 690 Z" fill="#9a9a9a"/>
<path d="M324 622 L325.5 624 L325 688 L323.5 690 Z" fill="#444"/>
<circle cx="317" cy="668" r="1.9" fill="none" stroke="#c8d0f0" stroke-width="0.9"/>
<rect x="356" y="630" width="107.7" height="61.7" fill="#161a2a"/>
<rect x="357" y="631" width="105.7" height="60" fill="#cdbbec"/>
<g clip-path="url(#tvclip)"><g filter="url(#blur2)">
<ellipse cx="372" cy="639" rx="22" ry="10" transform="rotate(0 372 639)" fill="#f3d0e7"/>
<ellipse cx="360" cy="660" rx="7" ry="12" transform="rotate(0 360 660)" fill="#c9c2f2"/>
<ellipse cx="440" cy="645" rx="24" ry="14" transform="rotate(0 440 645)" fill="#f6e4f4"/>
<ellipse cx="457" cy="666" rx="8" ry="13" transform="rotate(0 457 666)" fill="#f2f0ff"/>
<ellipse cx="425" cy="640" rx="10" ry="7" transform="rotate(0 425 640)" fill="#ecc8ec"/>
<ellipse cx="407" cy="636" rx="3.5" ry="8" transform="rotate(-25 407 636)" fill="#2636a0"/>
<ellipse cx="368" cy="683" rx="19" ry="10" transform="rotate(0 368 683)" fill="#4a8ae6"/>
<ellipse cx="361" cy="676" rx="6" ry="4" transform="rotate(0 361 676)" fill="#dcecff"/>
<ellipse cx="399" cy="687" rx="22" ry="9" transform="rotate(0 399 687)" fill="#1a30a2"/>
<ellipse cx="446" cy="683" rx="19" ry="9" transform="rotate(0 446 683)" fill="#6eb2f0"/>
<ellipse cx="421" cy="678" rx="3" ry="9" transform="rotate(0 421 678)" fill="#f0b0d0"/>
<circle cx="392" cy="663.5" r="14.5" fill="none" stroke="#f2a6c6" stroke-width="9"/>
<ellipse cx="392" cy="665" rx="10" ry="9" fill="#2034a6"/>
<ellipse cx="393.5" cy="665" rx="4" ry="3" fill="#6a78dc"/>
<g stroke="#3a3c94" stroke-width="1.6"><path d="M405 656 L430 641"/><path d="M408 660 L440 648"/><path d="M409 664 L441 659"/></g>
</g></g>
<rect x="364" y="691.7" width="3.5" height="5.8" fill="#222"/>
<rect x="452" y="691.7" width="3.5" height="5.8" fill="#222"/>
</svg></body></html>
